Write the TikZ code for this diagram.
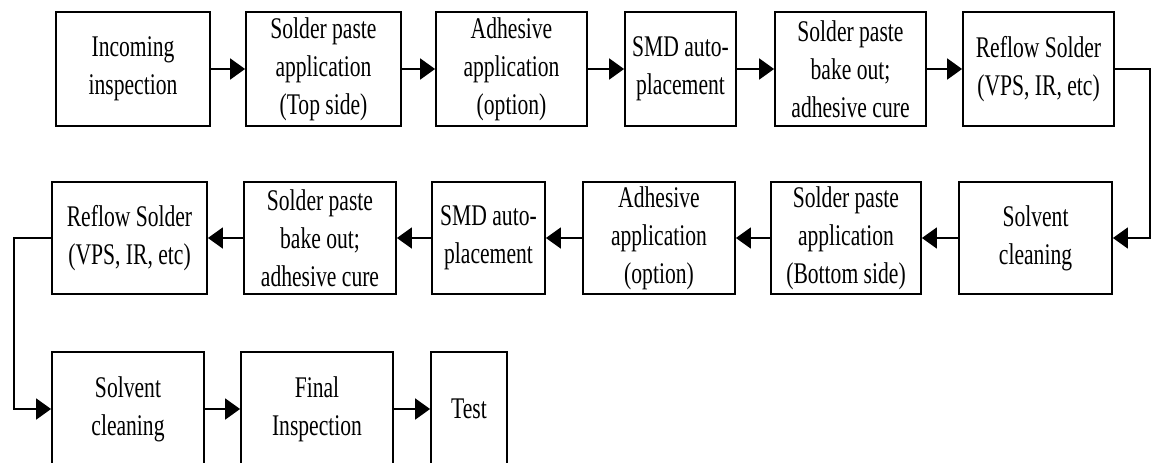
\documentclass[tikz,border=0pt]{standalone}
\usepackage{fontspec}
\setmainfont{Liberation Serif}[FakeStretch=0.72]
\usetikzlibrary{arrows.meta}
\begin{document}
\begin{tikzpicture}[x=1pt,y=-1pt,
  stage/.style={draw, line width=1.8pt, inner sep=0pt, align=center,
    font=\fontsize{30}{38}\selectfont},
  flow/.style={line width=1.8pt, -{Triangle[length=15pt,width=21pt]}}]
\useasboundingbox (0,0) rectangle (1151,463);
\clip (0,0) rectangle (1151,463);

% top row: top side processing
\node[stage, minimum width=154pt, minimum height=114pt] (a1) at (133,69)    {Incoming\\inspection};
\node[stage, minimum width=155pt, minimum height=114pt] (a2) at (323.5,69)  {Solder paste\\application\\(Top side)};
\node[stage, minimum width=151pt, minimum height=114pt] (a3) at (511.5,69)  {Adhesive\\application\\(option)};
\node[stage, minimum width=111pt, minimum height=114pt] (a4) at (680.5,69)  {SMD auto-\\placement};
\node[stage, minimum width=151pt, minimum height=114pt] (a5) at (850.5,69)  {Solder paste\\bake out;\\adhesive cure};
\node[stage, minimum width=151pt, minimum height=114pt] (a6) at (1038.5,69) {Reflow Solder\\(VPS, IR, etc)};

% middle row: bottom side processing, right to left
\node[stage, minimum width=153pt, minimum height=112pt] (b1) at (1035.5,238) {Solvent\\cleaning};
\node[stage, minimum width=150pt, minimum height=112pt] (b2) at (846,238)    {Solder paste\\application\\(Bottom side)};
\node[stage, minimum width=152pt, minimum height=112pt] (b3) at (659,238)    {Adhesive\\application\\(option)};
\node[stage, minimum width=113pt, minimum height=112pt] (b4) at (488.5,238)  {SMD auto-\\placement};
\node[stage, minimum width=152pt, minimum height=112pt] (b5) at (320,238)    {Solder paste\\bake out;\\adhesive cure};
\node[stage, minimum width=155pt, minimum height=112pt] (b6) at (129.5,238)  {Reflow Solder\\(VPS, IR, etc)};

% bottom row: finishing
\node[stage, minimum width=152pt, minimum height=114pt] (c1) at (128,409) {Solvent\\cleaning};
\node[stage, minimum width=152pt, minimum height=114pt] (c2) at (317,409) {Final\\Inspection};
\node[stage, minimum width=76pt,  minimum height=114pt] (c3) at (469,409) {Test};

% straight connectors
\draw[flow] (a1) -- (a2);
\draw[flow] (a2) -- (a3);
\draw[flow] (a3) -- (a4);
\draw[flow] (a4) -- (a5);
\draw[flow] (a5) -- (a6);
\draw[flow] (b1) -- (b2);
\draw[flow] (b2) -- (b3);
\draw[flow] (b3) -- (b4);
\draw[flow] (b4) -- (b5);
\draw[flow] (b5) -- (b6);
\draw[flow] (c1) -- (c2);
\draw[flow] (c2) -- (c3);

% row-to-row turns
\coordinate (rturn) at (1150,69);
\coordinate (lturn) at (14,238);
\draw[flow] (a6.east) -- (rturn) |- (b1.east);
\draw[flow] (b6.west) -- (lturn) |- (c1.west);
\end{tikzpicture}
\end{document}
